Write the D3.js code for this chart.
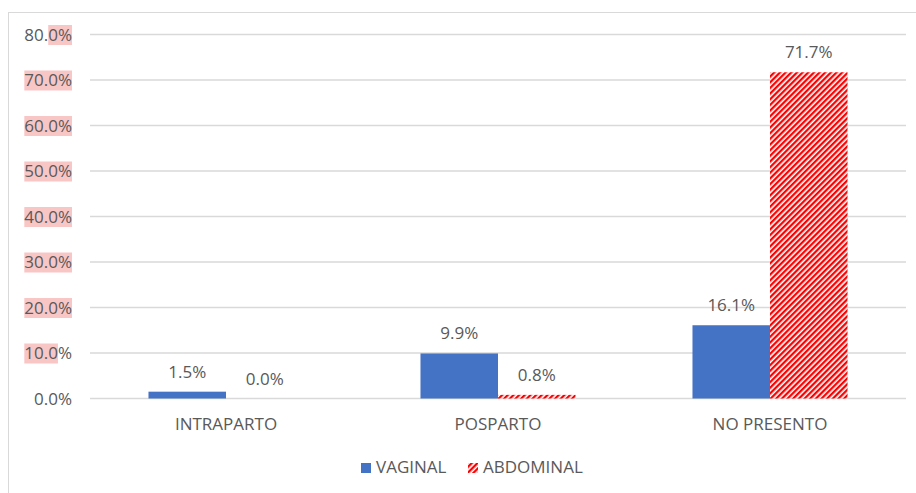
<!DOCTYPE html>
<html>
<head>
<meta charset="utf-8">
<script src="https://cdn.jsdelivr.net/npm/d3@7"></script>
<style>
  body { margin: 0; background: #fff; }
  svg text { font-family: "Open Sans", "Noto Sans", sans-serif; fill: #595959; }
</style>
</head>
<body>
<div id="chart"></div>
<script>
const width = 916, height = 493;

// data
const categories = ["INTRAPARTO", "POSPARTO", "NO PRESENTO"];
const series = ["VAGINAL", "ABDOMINAL"];
const vaginal = [0.015, 0.099, 0.161];
const abdominal = [0.000, 0.008, 0.717];
const yTicks = [0, 0.1, 0.2, 0.3, 0.4, 0.5, 0.6, 0.7, 0.8];
// pink marks behind tick labels: [tick, first char, last char]
const tickHighlights = [[0.8, 3, 5], [0.7, 0, 5], [0.6, 0, 5], [0.5, 0, 5],
                        [0.4, 0, 5], [0.3, 0, 5], [0.2, 0, 5], [0.1, 0, 4]];

const values = { VAGINAL: vaginal, ABDOMINAL: abdominal };
const fmt = d3.format(".1%");
const fontSize = "17px";

let svg = d3.select("#chart")
    .append("svg")
    .attr("width", width)
    .attr("height", height);

let defs = svg.append("defs");
let hatch = defs.append("pattern")
    .attr("id", "hatch")
    .attr("patternUnits", "userSpaceOnUse")
    .attr("width", 4)
    .attr("height", 4)
    .attr("patternTransform", "rotate(45)");
hatch.append("rect").attr("width", 4).attr("height", 4).attr("fill", "#fff");
hatch.append("rect").attr("width", 2.3).attr("height", 4).attr("fill", "#ff0000");

const fills = { VAGINAL: "#4472c4", ABDOMINAL: "url(#hatch)" };

// chart frame
svg.append("rect")
    .attr("x", 8.5).attr("y", 12.5)
    .attr("width", 930).attr("height", 500)
    .attr("fill", "none")
    .attr("stroke", "#d9d9d9");

let x0 = d3.scaleBand()
    .domain(categories)
    .range([90, 906])
    .paddingInner(0.43)
    .paddingOuter(0.215);

let x1 = d3.scaleBand()
    .domain(series)
    .range([0, x0.bandwidth()]);

let y = d3.scaleLinear()
    .domain([0, 0.8])
    .range([398.5, 34.5]);

// gridlines
svg.append("g")
    .selectAll("line")
    .data(yTicks)
    .enter()
    .append("line")
    .attr("x1", 90).attr("x2", 906)
    .attr("y1", d => y(d)).attr("y2", d => y(d))
    .attr("stroke", "#d9d9d9")
    .attr("stroke-width", 1.3);

// y tick labels
let yLabels = svg.append("g");
let hlLayer = yLabels.append("g");
let tickText = yLabels.selectAll("text")
    .data(yTicks)
    .enter()
    .append("text")
    .attr("x", 72)
    .attr("y", d => y(d) + 6)
    .style("text-anchor", "end")
    .style("font-size", fontSize)
    .text(d => fmt(d));

tickText.each(function(d) {
    let h = tickHighlights.find(t => t[0] === d);
    if (!h) return;
    let xs = this.getStartPositionOfChar(h[1]).x;
    let xe = this.getEndPositionOfChar(h[2] - 1).x;
    hlLayer.append("rect")
        .attr("x", xs)
        .attr("y", y(d) - 9.5)
        .attr("width", xe - xs)
        .attr("height", 20)
        .attr("fill", "#f9c6c6");
});

// bars
let groups = svg.append("g")
    .selectAll("g")
    .data(categories)
    .enter()
    .append("g")
    .attr("transform", d => `translate(${x0(d)},0)`);

groups.selectAll("rect")
    .data((c, i) => series.map(s => ({ s: s, v: values[s][i] })))
    .enter()
    .append("rect")
    .attr("x", d => x1(d.s))
    .attr("y", d => y(d.v))
    .attr("width", x1.bandwidth())
    .attr("height", d => y(0) - y(d.v))
    .attr("fill", d => fills[d.s]);

groups.selectAll("text")
    .data((c, i) => series.map(s => ({ s: s, v: values[s][i] })))
    .enter()
    .append("text")
    .attr("x", d => x1(d.s) + x1.bandwidth() / 2)
    .attr("y", d => y(d.v) - 14)
    .style("text-anchor", "middle")
    .style("font-size", fontSize)
    .text(d => fmt(d.v));

// category labels
svg.append("g")
    .selectAll("text")
    .data(categories)
    .enter()
    .append("text")
    .attr("x", d => x0(d) + x0.bandwidth() / 2)
    .attr("y", y(0) + 31)
    .style("text-anchor", "middle")
    .style("font-size", fontSize)
    .text(d => d);

// legend
let legend = svg.append("g");
let legX = [361, 468];
series.forEach(function(s, i) {
    legend.append("rect")
        .attr("x", legX[i]).attr("y", 463)
        .attr("width", 10).attr("height", 10)
        .attr("fill", fills[s]);
    legend.append("text")
        .attr("x", legX[i] + 15)
        .attr("y", 473)
        .style("font-size", fontSize)
        .text(s);
});
</script>
</body>
</html>
